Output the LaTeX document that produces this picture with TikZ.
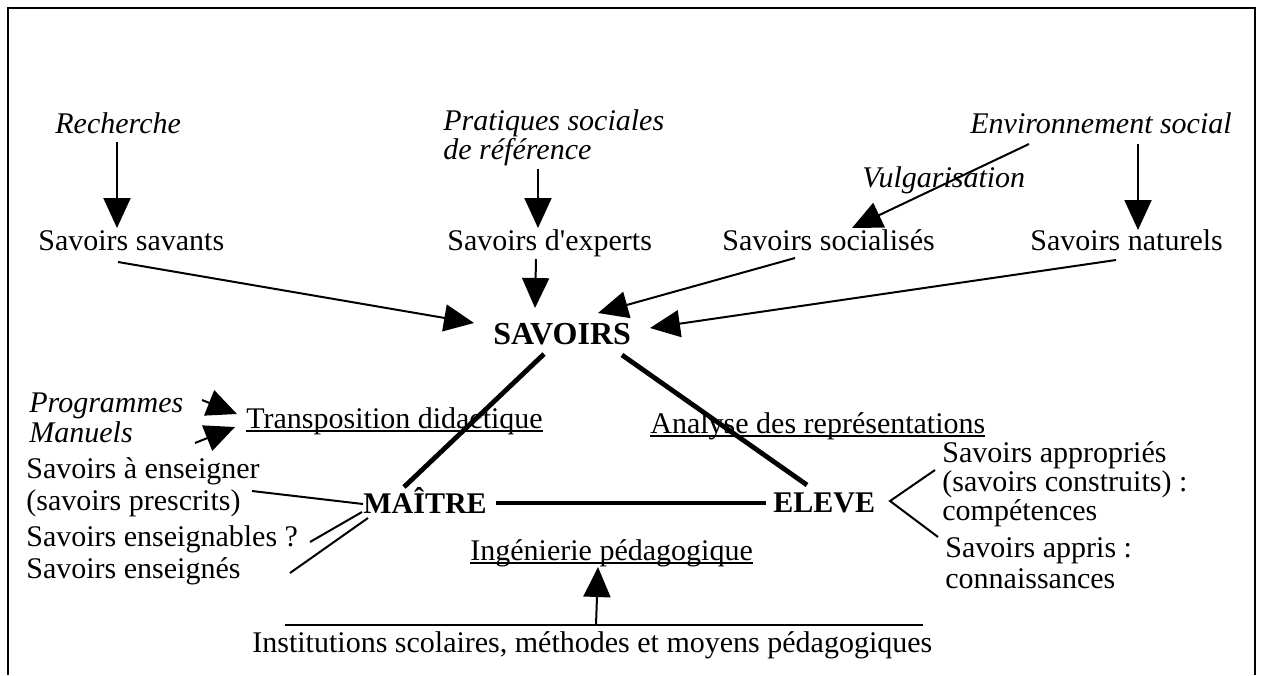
\documentclass[tikz,border=0pt]{standalone}
\usepackage{fontspec}
\setmainfont{Liberation Serif}
\usetikzlibrary{arrows.meta}
\newcommand{\ulined}[1]{\setbox0\hbox{#1}\rlap{\rule[-2pt]{\wd0}{0.8pt}}\box0}
\tikzset{txt/.style={inner sep=0pt, anchor=base west, align=left, font=\fontsize{15pt}{15pt}\selectfont},
lbl/.style={txt, font=\fontsize{15pt}{14.5pt}\selectfont\itshape},
pole/.style={txt, font=\fontsize{15pt}{15pt}\selectfont\bfseries},
arr/.style={line width=1pt, -{Triangle[length=15pt,width=13.5pt]}},
link/.style={line width=1pt},
sideline/.style={line width=2.4pt}}

\begin{document}
\begin{tikzpicture}[x=0.5pt,y=-0.5pt]
    \useasboundingbox (0,0) rectangle (1262,675);

    % open frame
    \draw[line width=1pt] (8,675) -- (8,8) -- (1255,8) -- (1255,675);

    % multi-line nodes are placed by the baseline of their last line
    \node[lbl] (rech) at (55,133) {Recherche};
    \node[lbl] (prat) at (443,159) {Pratiques sociales\\de référence};
    \node[lbl] (env) at (970,133) {Environnement social};
    \node[lbl] (vulg) at (862,187) {Vulgarisation};

    \node[txt] (ssav) at (38,250) {Savoirs savants};
    \node[txt] (sexp) at (447,250) {Savoirs d\textquotesingle experts};
    \node[txt] (ssoc) at (722,250) {Savoirs socialisés};
    \node[txt] (snat) at (1030,250) {Savoirs naturels};

    \node[pole, font=\fontsize{16pt}{16pt}\selectfont\bfseries] (sav) at (493,344) {SAVOIRS};
    \node[pole] (maitre) at (363,513) {MAÎTRE};
    \node[pole] (eleve) at (773,512) {ELEVE};

    \node[lbl] (prog) at (29,412) {Programmes};
    \node[lbl] (man) at (29,442) {Manuels};
    \node[txt] (trans) at (246,428) {\ulined{Transposition didactique}};
    \node[txt] (analyse) at (650,433) {\ulined{Analyse des représentations}};
    \node[txt] (inge) at (470,560) {\ulined{Ingénierie pédagogique}};

    \node[txt, font=\fontsize{15pt}{16pt}\selectfont] (aens) at (26,510) {Savoirs à enseigner\\(savoirs prescrits)};
    \node[txt] (sensb) at (26,546) {Savoirs enseignables ?};
    \node[txt] (sensg) at (26,578) {Savoirs enseignés};

    \node[txt, font=\fontsize{15pt}{14.5pt}\selectfont] (approp) at (942,520) {Savoirs appropriés\\(savoirs construits) :\\compétences};
    \node[txt, font=\fontsize{15pt}{15.5pt}\selectfont] (appris) at (945,588) {Savoirs appris :\\connaissances};

    \node[txt] (inst) at (252,652) {Institutions scolaires, méthodes et moyens pédagogiques};

    \coordinate (rech-s) at (117,142);
    \coordinate (ssav-n) at (117,228);
    \coordinate (prat-s) at (538,169);
    \coordinate (sexp-n) at (538,228);
    \coordinate (sexp-s) at (536,259);
    \coordinate (sav-n) at (535,308);
    \coordinate (env-sw) at (1029,144);
    \coordinate (ssoc-ne) at (852,228);
    \coordinate (env-s) at (1138,144);
    \coordinate (snat-n) at (1138,230);
    \coordinate (ssav-s) at (118,262);
    \coordinate (sav-w) at (474,323);
    \coordinate (ssoc-s) at (795,258);
    \coordinate (sav-ne) at (598,313);
    \coordinate (snat-s) at (1116,260);
    \coordinate (sav-e) at (650,328);
    \coordinate (prog-e) at (202,400);
    \coordinate (trans-w1) at (237,414);
    \coordinate (man-e) at (195,443);
    \coordinate (trans-w2) at (235,427);
    \coordinate (inst-n) at (596,625);
    \coordinate (inge-s) at (598,567);

    \foreach \a/\b in {rech-s/ssav-n, prat-s/sexp-n, sexp-s/sav-n, env-sw/ssoc-ne,
      env-s/snat-n, ssav-s/sav-w, ssoc-s/sav-ne, snat-s/sav-e,
      prog-e/trans-w1, man-e/trans-w2, inst-n/inge-s}
    \draw[arr] (\a) -- (\b);

    % triangle of the didactic relation
    \coordinate (sav-sw) at (544,354);
    \coordinate (maitre-ne) at (404,487);
    \coordinate (sav-se) at (622,355);
    \coordinate (eleve-nw) at (807,485);
    \coordinate (maitre-e) at (496,503);
    \coordinate (eleve-w) at (766,503);
    \draw[sideline] (sav-sw) -- (maitre-ne);
    \draw[sideline] (sav-se) -- (eleve-nw);
    \draw[sideline] (maitre-e) -- (eleve-w);

    \coordinate (aens-e) at (252,491);
    \coordinate (sensb-e) at (310,542);
    \coordinate (sensg-e) at (290,573);
    \coordinate (maitre-w1) at (363,504);
    \coordinate (maitre-w2) at (362,512);
    \coordinate (maitre-w3) at (368,518);
    \foreach \a/\b in {aens-e/maitre-w1, sensb-e/maitre-w2, sensg-e/maitre-w3}
    \draw[link] (\a) -- (\b);

    \coordinate (approp-w) at (935,470);
    \coordinate (eleve-e) at (890,501);
    \coordinate (appris-w) at (938,537);
    \draw[link] (approp-w) -- (eleve-e) -- (appris-w);

    \coordinate (inst-l) at (285,625);
    \coordinate (inst-r) at (923,625);
    \draw[link] (inst-l) -- (inst-r);

  \end{tikzpicture}
\end{document}
